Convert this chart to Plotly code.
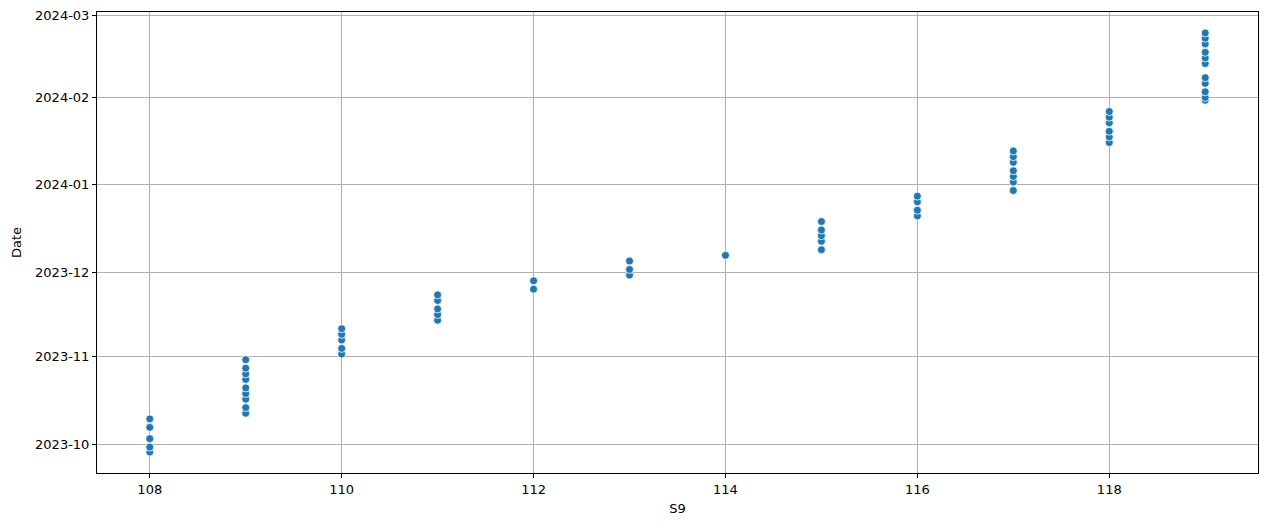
import pandas as pd
import plotly.graph_objects as go

# S9 value -> observed dates
s9_values = [108, 109, 110, 111, 112, 113, 114, 115, 116, 117, 118, 119]
dates_108 = ["2023-09-28 06:00", "2023-09-30", "2023-10-03", "2023-10-07", "2023-10-10"]
dates_109 = ["2023-10-12", "2023-10-14", "2023-10-17", "2023-10-19", "2023-10-21",
             "2023-10-24", "2023-10-26", "2023-10-28", "2023-10-31"]
dates_110 = ["2023-11-02", "2023-11-04", "2023-11-07", "2023-11-09", "2023-11-11"]
dates_111 = ["2023-11-14", "2023-11-16", "2023-11-18", "2023-11-21", "2023-11-23"]
dates_112 = ["2023-11-25", "2023-11-28"]
dates_113 = ["2023-11-30", "2023-12-02", "2023-12-05"]
dates_114 = ["2023-12-07"]
dates_115 = ["2023-12-09", "2023-12-12", "2023-12-14", "2023-12-16", "2023-12-19"]
dates_116 = ["2023-12-21", "2023-12-23", "2023-12-26", "2023-12-28"]
dates_117 = ["2023-12-30", "2024-01-02", "2024-01-04", "2024-01-06", "2024-01-09",
             "2024-01-11", "2024-01-13"]
dates_118 = ["2024-01-16", "2024-01-18", "2024-01-20", "2024-01-23", "2024-01-25",
             "2024-01-27"]
dates_119 = ["2024-01-31", "2024-02-01", "2024-02-03", "2024-02-06", "2024-02-08",
             "2024-02-13", "2024-02-15", "2024-02-17", "2024-02-20", "2024-02-22",
             "2024-02-23 21:00"]
date_groups = [dates_108, dates_109, dates_110, dates_111, dates_112, dates_113,
               dates_114, dates_115, dates_116, dates_117, dates_118, dates_119]
x_tick_vals = [108, 110, 112, 114, 116, 118]

xs, ys = [], []
for v, grp in zip(s9_values, date_groups):
    for d in grp:
        xs.append(v)
        ys.append(d)

yd = pd.to_datetime(pd.Series(ys), format="mixed")
ymin, ymax = yd.min(), yd.max()
pad = (ymax - ymin) * 0.05
xmin, xmax = min(s9_values), max(s9_values)
xpad = (xmax - xmin) * 0.05

fig = go.Figure(go.Scatter(
    x=xs, y=ys, mode="markers",
    marker=dict(color="#1f77b4", size=8, line=dict(color="white", width=0.8)),
    showlegend=False,
))

font = dict(family="DejaVu Sans", size=13, color="black")
fig.update_layout(
    width=1253, height=510,
    margin=dict(l=89, r=3, t=0, b=45),
    paper_bgcolor="white", plot_bgcolor="white",
    font=font,
)
fig.update_xaxes(
    range=[xmin - xpad, xmax + xpad],
    tickmode="array", tickvals=x_tick_vals,
    showgrid=True, gridcolor="#b0b0b0", gridwidth=1,
    showline=True, linecolor="black", linewidth=1, mirror=True,
    ticks="outside", ticklen=4, tickcolor="black",
    zeroline=False,
    title=dict(text="S9", font=font, standoff=8),
)
fig.update_yaxes(
    range=[(ymin - pad).isoformat(), (ymax + pad).isoformat()],
    dtick="M1", tickformat="%Y-%m",
    showgrid=True, gridcolor="#b0b0b0", gridwidth=1,
    showline=True, linecolor="black", linewidth=1, mirror=True,
    ticks="outside", ticklen=4, tickcolor="black",
    ticklabeloverflow="allow",
    zeroline=False,
    title=dict(text="Date", font=font, standoff=10),
)

fig.write_html("out.html")
